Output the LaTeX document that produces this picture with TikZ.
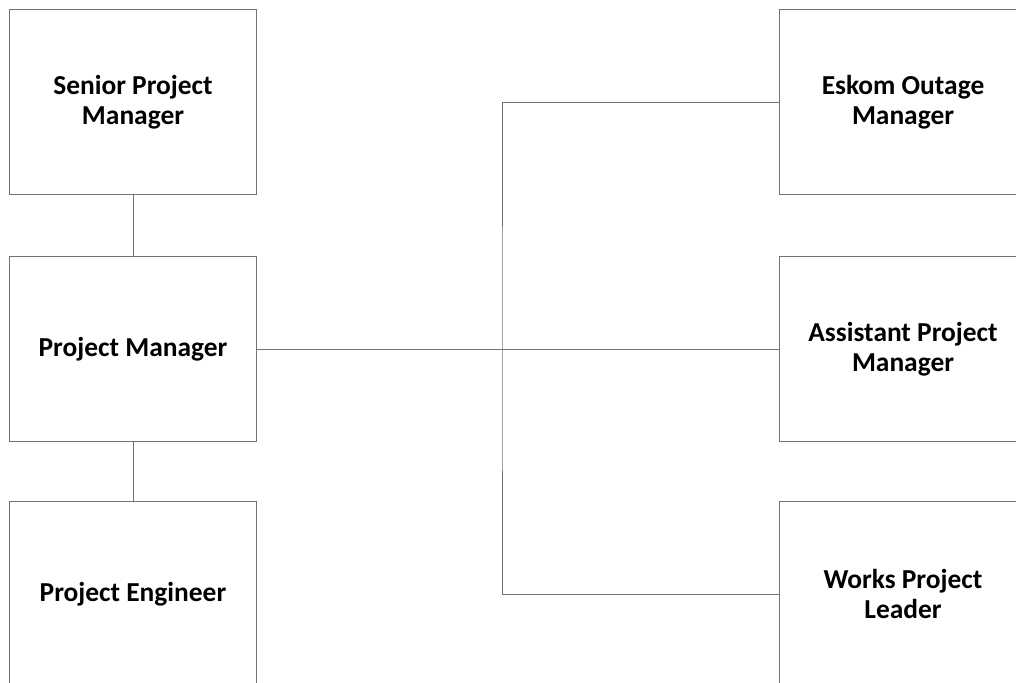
\documentclass[tikz,border=0pt]{standalone}
\usepackage{fontspec}
\setmainfont{Carlito}
\usetikzlibrary{positioning}
\tikzstyle{role}=[draw=black!55,line width=0.7pt,minimum width=6.15cm,minimum height=4.6cm,inner sep=0pt,align=center,font=\bfseries\fontsize{19.5}{21.5}\selectfont]
\tikzstyle{link}=[draw=black!55,line width=0.7pt]

\begin{document}
\begin{tikzpicture}[x=0.025cm,y=-0.025cm]
	\useasboundingbox (0,0) rectangle (1016,682);
	
	\node[role] (spm) at (133,102) {Senior Project\\Manager};
	\node[role] (pm) at (133,349) {Project Manager};
	\node[role] (pe) at (133,594) {Project Engineer};
	
	\node[role] (eom) at (903,102) {Eskom Outage\\Manager};
	\node[role] (apm) at (903,349) {Assistant Project\\Manager};
	\node[role] (wpl) at (903,594) {Works Project\\Leader};
	
	\path (502,349) coordinate (J);
	\foreach \source/\dest in {spm/pm,pm/pe,pm/apm}
	\path[link] (\source) -- (\dest);
	\path[link] (eom.west) -| (J) |- (wpl.west);
\end{tikzpicture}
\end{document}
